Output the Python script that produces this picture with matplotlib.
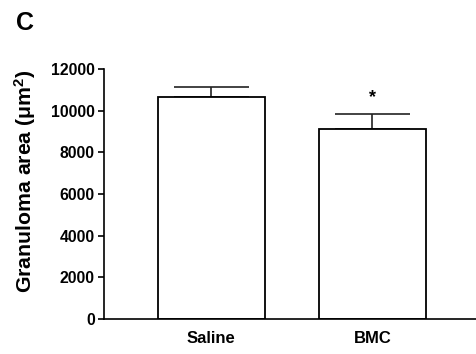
import matplotlib
matplotlib.use("Agg")
import matplotlib.pyplot as plt

plt.rcParams['font.family'] = ['Liberation Sans', 'DejaVu Sans']
plt.rcParams['mathtext.fontset'] = 'custom'
plt.rcParams['mathtext.rm'] = 'Liberation Sans:bold'
plt.rcParams['mathtext.bf'] = 'Liberation Sans:bold'
plt.rcParams['mathtext.it'] = 'Liberation Sans:bold'

groups = ["Saline", "BMC"]
means = [10650, 9120]
sem = [500, 730]
yticks = [0, 2000, 4000, 6000, 8000, 10000, 12000]

fig = plt.figure(figsize=(4.77, 3.54), dpi=100)
ax = fig.add_axes([0.218, 0.099, 0.782, 0.706])

x = [1, 2]
ax.bar(x, means, width=0.665, color="white", edgecolor="black", linewidth=1.3, zorder=2)
ax.errorbar(x, means, yerr=[[0, 0], sem], fmt="none", ecolor="#222222",
            elinewidth=1.2, capsize=27, capthick=1.2, zorder=1)

ax.text(2, means[1] + sem[1] + 350, "*", ha="center", va="bottom",
        fontsize=13, fontweight="bold")

ax.set_xlim(0.333, 2.65)
ax.set_ylim(0, 12000)
ax.set_yticks(yticks)
ax.set_yticklabels([str(t) for t in yticks], fontsize=11.3, fontweight="bold")
ax.set_xticks(x)
ax.set_xticklabels(groups, fontsize=12, fontweight="bold")
ax.tick_params(axis="x", length=0, pad=9)
ax.tick_params(axis="y", length=4.5, width=1.2, pad=2)
ax.spines["top"].set_visible(False)
ax.spines["right"].set_visible(False)
for s in ("left", "bottom"):
    ax.spines[s].set_linewidth(1.2)
ax.set_ylabel(r"Granuloma area ($\mu$m$^{2}$)", fontsize=15.3, fontweight="bold")
ax.yaxis.set_label_coords(-0.177, 0.55)

fig.text(25 / 477, 1 - 22.5 / 354, "C", fontsize=18, fontweight="bold", ha="center", va="center")

fig.savefig("out.png", dpi=100)
